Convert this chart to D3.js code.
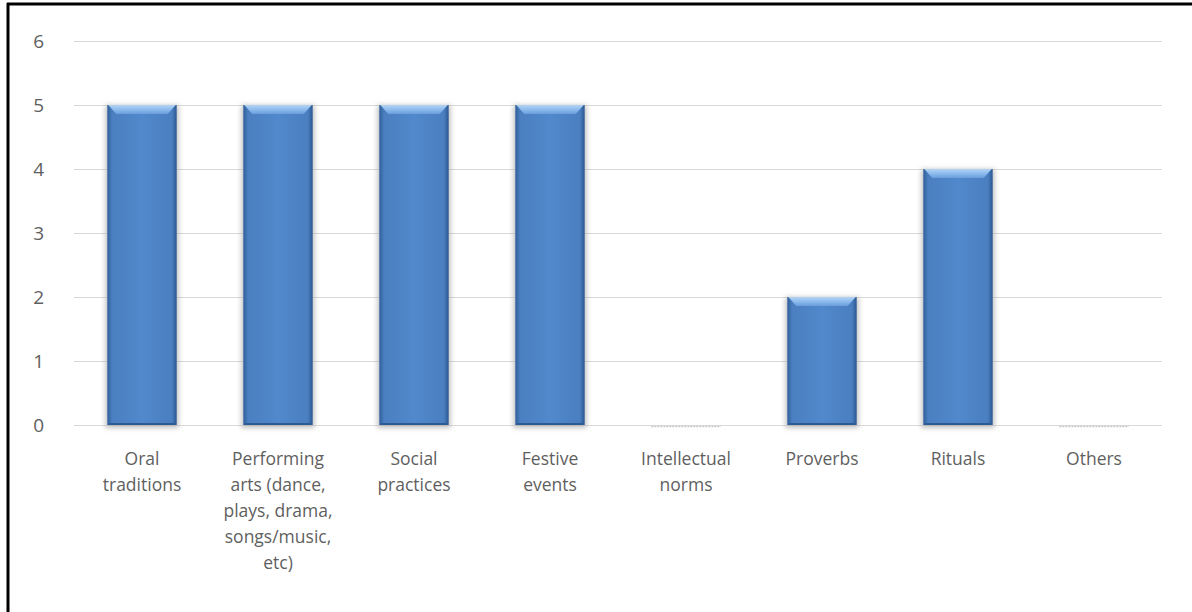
<!DOCTYPE html>
<html><head><meta charset="utf-8">
<script src="https://cdn.jsdelivr.net/npm/d3@7"></script>
<style>body{margin:0;background:#fff}svg{display:block}</style>
</head><body><svg id="c" width="1192" height="612"></svg>
<script>
const categories = ["Oral\ntraditions","Performing\narts (dance,\nplays, drama,\nsongs/music,\netc)","Social\npractices","Festive\nevents","Intellectual\nnorms","Proverbs","Rituals","Others"];
const values = [5,5,5,5,0,2,4,0];
const yTicks = [0,1,2,3,4,5,6];

const svg = d3.select("#c");
const W=1192,H=612;
const m={left:74,right:30,top:41,bottom:187};
const x=d3.scaleBand().domain(categories).range([m.left,W-m.right]).paddingInner(0.49).paddingOuter(0.245);
const y=d3.scaleLinear().domain([0,6]).range([H-m.bottom,m.top]);

const defs=svg.append("defs");
const g=defs.append("linearGradient").attr("id","bar").attr("x1",0).attr("x2",1).attr("y1",0).attr("y2",0);
[[0,"#2f5f9c"],[0.07,"#4a7fc0"],[0.5,"#5189cc"],[0.93,"#4a7fc0"],[1,"#2a5893"]].forEach(s=>g.append("stop").attr("offset",s[0]).attr("stop-color",s[1]));
const gt=defs.append("linearGradient").attr("id","top").attr("x1",0).attr("x2",0).attr("y1",0).attr("y2",1);
[[0,"#b3d4f5"],[0.5,"#8dbbec"],[1,"#6a9ddc"]].forEach(s=>gt.append("stop").attr("offset",s[0]).attr("stop-color",s[1]));
const f=defs.append("filter").attr("id","sh").attr("x","-20%").attr("y","-5%").attr("width","140%").attr("height","115%");
f.append("feGaussianBlur").attr("stdDeviation",2.5);

// border
svg.append("line").attr("x1",8).attr("x2",8).attr("y1",3).attr("y2",H).attr("stroke","#000").attr("stroke-width",3);
svg.append("line").attr("x1",7).attr("x2",W).attr("y1",4).attr("y2",4).attr("stroke","#000").attr("stroke-width",3);

// grid
svg.append("g").selectAll("line").data(yTicks).join("line")
 .attr("x1",m.left).attr("x2",W-m.right).attr("y1",d=>Math.round(y(d))+0.5).attr("y2",d=>Math.round(y(d))+0.5)
 .attr("stroke","#d9d9d9").attr("stroke-width",1);

// y axis labels
const ya=svg.append("g").attr("transform",`translate(${m.left-30},0)`).call(d3.axisLeft(y).tickValues(yTicks).tickFormat(d3.format("d")).tickSize(0).tickPadding(0));
ya.select(".domain").remove();
ya.selectAll("text").attr("font-family","'Open Sans', sans-serif").attr("font-size",19).attr("fill","#606060").attr("dy","0.35em");

const data=categories.map((c,i)=>({c,v:values[i]}));
const bw=x.bandwidth();
// shadows
svg.append("g").selectAll("rect").data(data.filter(d=>d.v>0)).join("rect")
 .attr("x",d=>x(d.c)-2).attr("y",d=>y(d.v)).attr("width",bw+4).attr("height",d=>y(0)-y(d.v)+3)
 .attr("fill","#9a9a9a").attr("opacity",0.6).attr("filter","url(#sh)");
// bars
svg.append("g").selectAll("rect").data(data.filter(d=>d.v>0)).join("rect")
 .attr("x",d=>x(d.c)).attr("y",d=>y(d.v)).attr("width",bw).attr("height",d=>y(0)-y(d.v))
 .attr("fill","url(#bar)");
// top bevel
svg.append("g").selectAll("path").data(data.filter(d=>d.v>0)).join("path")
 .attr("d",d=>{const x0=x(d.c),y0=y(d.v),b=9;return `M${x0+1},${y0}L${x0+bw-1},${y0}L${x0+bw-b},${y0+b}L${x0+b},${y0+b}Z`;})
 .attr("fill","url(#top)");
// bottom edge
svg.append("g").selectAll("rect").data(data.filter(d=>d.v>0)).join("rect")
 .attr("x",d=>x(d.c)+1).attr("y",y(0)-2).attr("width",bw-2).attr("height",2).attr("fill","#2b5a94");
// zero bars
svg.append("g").selectAll("line").data(data.filter(d=>d.v===0)).join("line")
 .attr("x1",d=>x(d.c)).attr("x2",d=>x(d.c)+bw).attr("y1",y(0)+1.5).attr("y2",y(0)+1.5)
 .attr("stroke","#c8c8c8").attr("stroke-width",1.5).attr("stroke-dasharray","2,1");

// x labels
const xl=svg.append("g").selectAll("text").data(categories).join("text")
 .attr("x",d=>x(d)+bw/2).attr("y",y(0)+40).attr("text-anchor","middle")
 .attr("font-family","'Open Sans', sans-serif").attr("font-size",17.5).attr("fill","#5f5f5f");
xl.each(function(d){const t=d3.select(this);d.split("\n").forEach((l,i)=>t.append("tspan").attr("x",x(d)+bw/2).attr("dy",i?26:0).text(l));});
</script></body></html>
